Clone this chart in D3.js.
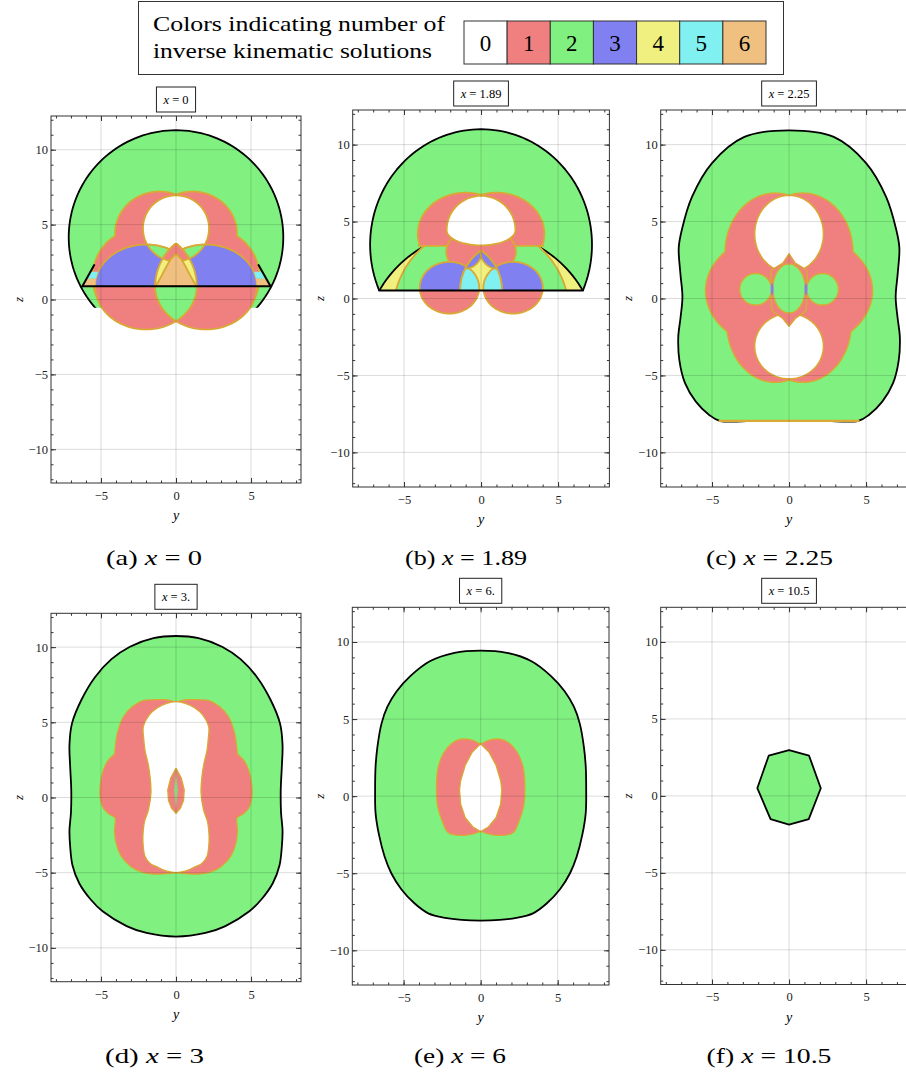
<!DOCTYPE html>
<html>
<head>
<meta charset="utf-8">
<script src="https://cdn.jsdelivr.net/npm/d3@7"></script>
<style>
  body { margin: 0; background: #fff; }
  svg { display: block; font-family: "Liberation Serif", "DejaVu Serif", serif; }
</style>
</head>
<body>
<svg id="chart" width="906" height="1074"></svg>
<script>
// colours for 0..6 solutions
const palette = ["#ffffff", "#f08080", "#80f080", "#8080f0", "#f0f080", "#80f0f0", "#f0c080"];
const legendCounts = [0, 1, 2, 3, 4, 5, 6];
const panelTitleValues = ["0", "1.89", "2.25", "3.", "6.", "10.5"];
const captionLetters = ["a", "b", "c", "d", "e", "f"];
const captionValues = ["0", "1.89", "2.25", "3", "6", "10.5"];
const yTicks = [-5, 0, 5];
const zTicks = [-10, -5, 0, 5, 10];
const yMinor = [-8, -7, -6, -5, -4, -3, -2, -1, 0, 1, 2, 3, 4, 5, 6, 7, 8];
const zMinor = [-12, -11, -10, -9, -8, -7, -6, -5, -4, -3, -2, -1, 0, 1, 2, 3, 4, 5, 6, 7, 8, 9, 10, 11, 12];
const yDomain = [-8.33, 8.33];
const zDomain = [-12.25, 12.25];

// ---- regions, in (y, z) plot units ----
// (a) x = 0
const bigA = { t: "c", c: [0, 4.15], r: 7.15, stroke: "black" };
const cutA = { t: "h", z: -0.55, above: true };
const upA = { t: "h", z: 0.89, above: true };
const downA = { t: "h", z: 0.89, above: false };
const petalLA = { t: "e", c: [-1.1, 4.4], a: 2.9, b: 2.75 };
const petalRA = { t: "e", c: [1.1, 4.4], a: 2.9, b: 2.75 };
const skirtLA = { t: "c", c: [-2.3, 1.5], r: 3.2 };
const skirtRA = { t: "c", c: [2.3, 1.5], r: 3.2 };
const holeA = { t: "c", c: [0, 4.75], r: 2.2 };
const lobeLA = { t: "egg", c: [-2.0, 0.89], a: 3.39, bt: 2.78, bb: 2.89 };
const lobeRA = { t: "egg", c: [2.0, 0.89], a: 3.39, bt: 2.78, bb: 2.89 };
const archLA = { t: "c", c: [2.275, 0.89], r: 3.655 };
const archRA = { t: "c", c: [-2.275, 0.89], r: 3.655 };
const lensA = { t: "p", mirror: true,
  pts: [[0, 3.07], [0.35, 2.7], [0.63, 2.22], [0.95, 1.6], [1.2, 1.15], [1.38, 0.89], [0, 0.89]] };
const cornerOL = { t: "p", pts: [[-6.24, 0.89], [-5.39, 0.89], [-5.33, 1.4], [-5.92, 1.4]], stroke: "none" };
const cornerOR = { t: "p", pts: [[6.3, 0.89], [5.39, 0.89], [5.33, 1.4], [5.98, 1.4]], stroke: "none" };
const cornerCL = { t: "p", pts: [[-5.92, 1.4], [-5.33, 1.4], [-5.2, 1.85], [-5.62, 1.85]], stroke: "none" };
const cornerCR = { t: "p", pts: [[5.98, 1.4], [5.33, 1.4], [5.2, 1.85], [5.66, 1.85]], stroke: "none" };

// (b) x = 1.89
const outerB = { t: "e", c: [0, 3.5], a: 7.2, b: 7.5, stroke: "black" };
const innerB = { t: "c", c: [0, -3.25], r: 7.6, stroke: "black" };
const bandB = { t: "c", c: [0, -0.95], r: 5.72 };
const upB = { t: "h", z: 0.52, above: true };
const downB = { t: "h", z: 0.52, above: false };
const petalCutB = { t: "h", z: 3.42, above: true };
const petalLB = { t: "e", c: [-1.0, 4.2], a: 3.05, b: 2.62 };
const petalRB = { t: "e", c: [1.0, 4.2], a: 3.05, b: 2.62 };
const smallLB = { t: "c", c: [-1.08, 3.05], r: 1.12 };
const smallRB = { t: "c", c: [1.08, 3.05], r: 1.12 };
const holeB = { t: "egg", c: [0, 4.45], a: 2.23, bt: 2.22, bb: 1.0 };
const lobeLB = { t: "e", c: [-2.05, 0.7], a: 1.93, b: 1.68 };
const lobeRB = { t: "e", c: [2.08, 0.7], a: 1.93, b: 1.68 };
const archLB = { t: "c", c: [1.805, 0.52], r: 3.165 };
const archRB = { t: "c", c: [-1.805, 0.52], r: 3.165 };

// (c) x = 2.25
const outerC = { t: "p", mirror: true, smooth: true, stroke: "black",
  pts: [[0, 10.93], [2.9, 10.5], [5.0, 8.8], [6.3, 6.6], [6.95, 4.5], [7.16, 3.3], [7.05, 1.6], [6.92, 0.1],
        [7.05, -1.3], [7.19, -2.5], [7.12, -4.0], [6.75, -5.5], [6.05, -6.7], [5.2, -7.55], [4.5, -7.95],
        [2.2, -7.95], [0, -7.95]] };
const petalULC = { t: "e", c: [-0.9, 3.0], a: 3.2, b: 3.8 };
const petalURC = { t: "e", c: [0.9, 3.0], a: 3.2, b: 3.8 };
const petalLLC = { t: "e", c: [-0.9, -1.6], a: 3.1, b: 3.8 };
const petalLRC = { t: "e", c: [0.9, -1.6], a: 3.1, b: 3.8 };
const waistC = { t: "e", c: [0, 0.5], a: 5.37, b: 3.9 };
const holeUC = { t: "e", c: [0, 4.2], a: 2.23, b: 2.5 };
const holeLC = { t: "e", c: [0, -3.1], a: 2.23, b: 2.12 };
const kiteC = { t: "p", mirror: true,
  pts: [[0, 2.9], [0.4, 2.3], [1.15, 1.85], [1.2, 0.6], [1.1, -0.8], [0.4, -1.3], [0, -1.8]] };
const coreC = { t: "e", c: [0, 0.65], a: 1.05, b: 1.6 };
const sideLC = { t: "c", c: [-2.17, 0.6], r: 1.03 };
const sideRC = { t: "c", c: [2.17, 0.6], r: 1.03 };
const sliverLC = { t: "e", c: [-1.1, 0.6], a: 0.09, b: 0.4, stroke: "none" };
const sliverRC = { t: "e", c: [1.1, 0.6], a: 0.09, b: 0.4, stroke: "none" };

// (d) x = 3
const outerD = { t: "p", mirror: true, smooth: true, stroke: "black",
  pts: [[0, 10.74], [1.5, 10.6], [3.07, 10.03], [4.3, 9.2], [5.4, 8.0], [6.3, 6.5], [6.93, 4.93], [7.1, 3.5],
        [7.05, 2.0], [6.98, 0.5], [7.0, -1.0], [7.1, -2.2], [7.05, -3.3], [6.9, -4.5], [6.45, -5.7],
        [5.67, -6.8], [4.89, -7.57], [3.29, -8.55], [1.96, -9.01], [0, -9.25]] };
const redD = { t: "p", mirror: true, smooth: true,
  pts: [[0, 6.37], [0.7, 6.5], [1.5, 6.5], [2.2, 6.45], [2.9, 6.05], [3.5, 5.37], [3.9, 4.3], [4.07, 3.16],
        [4.1, 2.9], [4.5, 2.5], [4.85, 1.8], [5.05, 0.8], [5.05, 0.0], [4.85, -0.7], [4.4, -1.15], [4.07, -1.35],
        [4.1, -2.2], [4.0, -3.0], [3.65, -3.9], [3.0, -4.6], [2.2, -4.98], [1.2, -5.1], [0.5, -5.05], [0, -5.0]] };
const holeD = { t: "p", mirror: true, smooth: true,
  pts: [[0, 6.37], [0.62, 6.26], [1.29, 5.93], [1.85, 5.4], [2.18, 4.71], [2.15, 3.9], [2.07, 3.16], [1.85, 2.2],
        [1.73, 1.39], [1.67, 0.29], [1.84, -0.83], [2.1, -1.6], [2.18, -2.16], [2.2, -3.0], [2.07, -3.9],
        [1.7, -4.4], [1.29, -4.6], [0.6, -4.9], [0, -5.0]] };
const lensD = { t: "p", mirror: true,
  pts: [[0, 1.94], [0.35, 1.3], [0.55, 0.5], [0.5, -0.2], [0.3, -0.7], [0, -1.05]] };
const coreD = { t: "p", mirror: true, stroke: "none", pts: [[0, 1.7], [0.11, 0.5], [0, -0.8]] };

// (e) x = 6
const outerE = { t: "p", mirror: true, smooth: true, stroke: "black",
  pts: [[0, 9.44], [1.7, 9.3], [3.3, 8.75], [4.55, 7.8], [5.45, 6.8], [6.05, 5.8], [6.43, 4.72], [6.7, 3.2],
        [6.82, 1.92], [6.85, 0.4], [6.82, -1.1], [6.6, -2.5], [6.23, -3.93], [5.8, -5.0], [5.15, -6.04],
        [4.3, -6.95], [3.4, -7.6], [2.3, -7.9], [1.23, -8.03], [0, -8.07]] };
const redE = { t: "p", mirror: true, smooth: true,
  pts: [[0, 3.4], [0.5, 3.62], [1.3, 3.69], [1.9, 3.4], [2.4, 2.8], [2.75, 1.9], [2.86, 0.9], [2.8, -0.6],
        [2.5, -1.6], [2.1, -2.37], [1.2, -2.55], [0.5, -2.45], [0, -2.3]] };
const holeE = { t: "p", mirror: true,
  pts: [[0, 3.4], [0.55, 2.85], [1.0, 2.0], [1.3, 1.0], [1.37, 0.4], [1.3, -0.5], [1.0, -1.4], [0.5, -2.0], [0, -2.3]] };

// (f) x = 10.5
const octF = { t: "p", stroke: "black",
  pts: [[0, 2.98], [1.3, 2.61], [2.06, 0.5], [1.28, -1.51], [0, -1.87], [-1.2, -1.51], [-2.06, 0.5], [-1.32, 2.61]] };

// painting order per panel: each layer = fill count + intersected parts (or a union)
const layersA = [
  { fill: 2, parts: [bigA, cutA] },
  { fill: 1, union: true, parts: [petalLA, petalRA, skirtLA, skirtRA] },
  { fill: 0, parts: [holeA] },
  { fill: 3, parts: [lobeLA, upA] }, { fill: 1, parts: [lobeLA, downA] },
  { fill: 3, parts: [lobeRA, upA] }, { fill: 1, parts: [lobeRA, downA] },
  { fill: 2, parts: [holeA, lobeLA] }, { fill: 2, parts: [holeA, lobeRA] },
  { fill: 2, parts: [lobeLA, lobeRA, downA] },
  { fill: 4, parts: [archLA, archRA, upA] },
  { fill: 1, parts: [archLA, archRA, holeA] },
  { fill: 6, parts: [lensA] },
  { fill: 6, parts: [cornerOL] }, { fill: 6, parts: [cornerOR] },
  { fill: 5, parts: [cornerCL] }, { fill: 5, parts: [cornerCR] }
];
const linesA = [
  { pts: [[-6.24, 0.89], [6.3, 0.89]], stroke: "black" },
  { pts: [[-6.24, 0.89], [-5.45, 2.3]], stroke: "black" },
  { pts: [[6.3, 0.89], [5.5, 2.3]], stroke: "black" }
];
const layersB = [
  { fill: 2, parts: [outerB, upB] },
  { fill: 4, parts: [innerB, upB] },
  { fill: 2, parts: [bandB, upB] },
  { fill: 1, union: true, parts: [petalLB, petalRB], clip: [petalCutB] },
  { fill: 1, union: true, parts: [smallLB, smallRB] },
  { fill: 0, parts: [holeB] },
  { fill: 3, parts: [lobeLB, upB] }, { fill: 1, parts: [lobeLB, downB] },
  { fill: 3, parts: [lobeRB, upB] }, { fill: 1, parts: [lobeRB, downB] },
  { fill: 4, parts: [archLB, archRB, upB] },
  { fill: 5, parts: [lobeLB, archLB, archRB, upB] },
  { fill: 5, parts: [lobeRB, archLB, archRB, upB] },
  { fill: 3, parts: [smallLB, archLB, archRB] },
  { fill: 3, parts: [smallRB, archLB, archRB] }
];
const linesB = [
  { pts: [[-6.62, 0.52], [6.62, 0.52]], stroke: "black" },
  { pts: [[-4.05, 3.42], [-2.2, 3.42]], stroke: "gold" },
  { pts: [[2.2, 3.42], [4.05, 3.42]], stroke: "gold" }
];
const layersC = [
  { fill: 2, parts: [outerC] },
  { fill: 1, union: true, parts: [petalULC, petalURC, petalLLC, petalLRC, waistC] },
  { fill: 0, parts: [holeUC] }, { fill: 0, parts: [holeLC] },
  { fill: 1, parts: [kiteC] },
  { fill: 2, parts: [coreC] }, { fill: 2, parts: [sideLC] }, { fill: 2, parts: [sideRC] },
  { fill: 3, parts: [sliverLC] }, { fill: 3, parts: [sliverRC] }
];
const linesC = [{ pts: [[-4.5, -7.95], [4.5, -7.95]], stroke: "gold", wide: true }];
const layersD = [
  { fill: 2, parts: [outerD] },
  { fill: 1, parts: [redD] },
  { fill: 0, parts: [holeD] },
  { fill: 1, parts: [lensD] },
  { fill: 2, parts: [coreD] }
];
const layersE = [
  { fill: 2, parts: [outerE] },
  { fill: 1, parts: [redE] },
  { fill: 0, parts: [holeE] }
];
const layersF = [{ fill: 2, parts: [octF] }];

const panelLayers = [layersA, layersB, layersC, layersD, layersE, layersF];
const panelLines = [linesA, linesB, linesC, [], [], []];

// ---- layout ----
const frames = [
  [51, 116, 250, 367], [352.7, 110, 256.7, 377], [660.7, 110, 256.7, 377],
  [51, 613.3, 250, 368.4], [352.3, 607.3, 256.7, 377.7], [660.7, 607.3, 256.7, 377.2]
];
const goldWidths = [1.8, 1.8, 1.5, 1.3, 1.3, 1.3];
const captionX = [154, 466, 769.5, 154.5, 460, 769];
const captionW = [96, 122, 127, 99, 92, 125];
const captionY = [565, 565, 565, 1063, 1063, 1063];
const GOLD = "#d9a934";

const svg = d3.select("#chart");
const defs = svg.append("defs");
let clipCount = 0;

function outline(s) {
  if (s.t === "c" || s.t === "e" || s.t === "egg") {
    const a = s.t === "c" ? s.r : s.a;
    const bt = s.t === "c" ? s.r : (s.t === "e" ? s.b : s.bt);
    const bb = s.t === "c" ? s.r : (s.t === "e" ? s.b : s.bb);
    return d3.range(160).map(i => {
      const th = (i / 160) * 2 * Math.PI, sn = Math.sin(th);
      return [s.c[0] + a * Math.cos(th), s.c[1] + (sn >= 0 ? bt : bb) * sn];
    });
  }
  if (s.t === "h") {
    const far = 60;
    return s.above ? [[-far, s.z], [far, s.z], [far, far], [-far, far]]
                   : [[-far, s.z], [far, s.z], [far, -far], [-far, -far]];
  }
  let pts = s.pts;
  if (s.mirror) pts = pts.concat(pts.slice(1, -1).reverse().map(([y, z]) => [-y, z]));
  return pts;
}

function pathFor(s, sx, sz) {
  const line = d3.line().x(d => sx(d[0])).y(d => sz(d[1]))
    .curve(s.t === "p" && s.smooth ? d3.curveCatmullRomClosed : d3.curveLinearClosed);
  return line(outline(s));
}

function clipped(parent, shapes, sx, sz) {
  let host = parent;
  shapes.forEach(s => {
    const id = "cp" + (clipCount++);
    defs.append("clipPath").attr("id", id).append("path").attr("d", pathFor(s, sx, sz));
    host = host.append("g").attr("clip-path", `url(#${id})`);
  });
  return host;
}

function strokeOf(p) { return p.stroke === "black" ? "#000" : GOLD; }

function drawLayer(g, L, sx, sz, gw) {
  const col = palette[L.fill];
  if (L.union) {
    const host = clipped(g, L.clip || [], sx, sz);
    L.parts.forEach(p => host.append("path").attr("d", pathFor(p, sx, sz))
      .attr("fill", "none").attr("stroke", strokeOf(p)).attr("stroke-width", 2 * gw));
    L.parts.forEach(p => host.append("path").attr("d", pathFor(p, sx, sz)).attr("fill", col));
    return;
  }
  clipped(g, L.parts.slice(1), sx, sz).append("path")
    .attr("d", pathFor(L.parts[0], sx, sz)).attr("fill", col);
  L.parts.forEach((p, i) => {
    if (p.t === "h" || p.stroke === "none") return;
    clipped(g, L.parts.filter((_, j) => j !== i), sx, sz).append("path")
      .attr("d", pathFor(p, sx, sz))
      .attr("fill", "none")
      .attr("stroke", strokeOf(p))
      .attr("stroke-width", p.stroke === "black" ? 1.8 : gw)
      .attr("stroke-linejoin", "round");
  });
}

function styleAxis(g) {
  g.select(".domain").remove();
  g.attr("font-family", "Liberation Serif").attr("font-size", 12.5);
  g.selectAll("line").attr("stroke", "#333");
  g.selectAll("text").attr("fill", "#222");
}

frames.forEach(([fx, fy, fw, fh], k) => {
  const sx = d3.scaleLinear().domain(yDomain).range([fx, fx + fw]);
  const sz = d3.scaleLinear().domain(zDomain).range([fy + fh, fy]);
  const panel = svg.append("g");

  const fid = "frame" + k;
  defs.append("clipPath").attr("id", fid).append("rect")
    .attr("x", fx).attr("y", fy).attr("width", fw).attr("height", fh);
  const plot = panel.append("g").attr("clip-path", `url(#${fid})`);

  panelLayers[k].forEach(L => drawLayer(plot, L, sx, sz, goldWidths[k]));
  panelLines[k].forEach(l => {
    plot.append("line")
      .attr("x1", sx(l.pts[0][0])).attr("y1", sz(l.pts[0][1]))
      .attr("x2", sx(l.pts[1][0])).attr("y2", sz(l.pts[1][1]))
      .attr("stroke", l.stroke === "black" ? "#000" : GOLD)
      .attr("stroke-width", l.stroke === "black" ? 2 : (l.wide ? 2.4 : goldWidths[k]))
      .attr("stroke-linecap", "round");
  });

  // grid over the regions
  plot.append("g").selectAll("line").data(yTicks).join("line")
    .attr("x1", d => sx(d)).attr("x2", d => sx(d)).attr("y1", fy).attr("y2", fy + fh)
    .attr("stroke", "#000").attr("stroke-opacity", 0.14);
  plot.append("g").selectAll("line").data(zTicks).join("line")
    .attr("y1", d => sz(d)).attr("y2", d => sz(d)).attr("x1", fx).attr("x2", fx + fw)
    .attr("stroke", "#000").attr("stroke-opacity", 0.14);

  // frame ticks, pointing inward
  panel.append("g").attr("transform", `translate(0,${fy + fh})`)
    .call(d3.axisBottom(sx).tickValues(yTicks).tickSize(-5).tickPadding(8)).call(styleAxis);
  panel.append("g").attr("transform", `translate(0,${fy + fh})`)
    .call(d3.axisBottom(sx).tickValues(yMinor).tickSize(-2.5).tickFormat("")).call(styleAxis);
  panel.append("g").attr("transform", `translate(0,${fy})`)
    .call(d3.axisTop(sx).tickValues(yTicks).tickSize(-5).tickFormat("")).call(styleAxis);
  panel.append("g").attr("transform", `translate(0,${fy})`)
    .call(d3.axisTop(sx).tickValues(yMinor).tickSize(-2.5).tickFormat("")).call(styleAxis);
  panel.append("g").attr("transform", `translate(${fx},0)`)
    .call(d3.axisLeft(sz).tickValues(zTicks).tickSize(-5).tickPadding(3)).call(styleAxis);
  panel.append("g").attr("transform", `translate(${fx},0)`)
    .call(d3.axisLeft(sz).tickValues(zMinor).tickSize(-2.5).tickFormat("")).call(styleAxis);
  panel.append("g").attr("transform", `translate(${fx + fw},0)`)
    .call(d3.axisRight(sz).tickValues(zTicks).tickSize(-5).tickFormat("")).call(styleAxis);
  panel.append("g").attr("transform", `translate(${fx + fw},0)`)
    .call(d3.axisRight(sz).tickValues(zMinor).tickSize(-2.5).tickFormat("")).call(styleAxis);

  panel.append("rect").attr("x", fx).attr("y", fy).attr("width", fw).attr("height", fh)
    .attr("fill", "none").attr("stroke", "#333").attr("stroke-width", 1);

  // axis names
  panel.append("text").attr("x", sx(0)).attr("y", fy + fh + 37)
    .attr("text-anchor", "middle").attr("font-style", "italic").attr("font-size", 14).text("y");
  panel.append("text")
    .attr("transform", `translate(${fx - 33},${sz(0)}) rotate(-90)`)
    .attr("text-anchor", "middle").attr("dy", "0.35em")
    .attr("font-style", "italic").attr("font-size", 13).text("z");

  // boxed plot title
  const box = panel.append("rect").attr("y", fy - 29).attr("height", 25)
    .attr("fill", "#fff").attr("stroke", "#222").attr("stroke-width", 1);
  const title = panel.append("text").attr("x", sx(0)).attr("y", fy - 12)
    .attr("text-anchor", "middle").attr("font-size", 12.5);
  title.append("tspan").attr("font-style", "italic").text("x");
  title.append("tspan").text(" = " + panelTitleValues[k]);
  const tw = title.node().getComputedTextLength() + 14;
  box.attr("x", sx(0) - tw / 2).attr("width", tw);

  // sub-figure caption
  const cap = svg.append("text").attr("x", captionX[k] - captionW[k] / 2).attr("y", captionY[k])
    .attr("font-size", 21).attr("textLength", captionW[k]).attr("lengthAdjust", "spacingAndGlyphs");
  cap.append("tspan").text(`(${captionLetters[k]}) `);
  cap.append("tspan").attr("font-style", "italic").text("x");
  cap.append("tspan").text(" = " + captionValues[k]);
});

// ---- legend ----
const legend = svg.append("g");
legend.append("rect").attr("x", 138.5).attr("y", 1.5).attr("width", 645).attr("height", 73)
  .attr("fill", "#fff").attr("stroke", "#333").attr("stroke-width", 1);
legend.append("text").attr("x", 153).attr("y", 31).attr("font-size", 21)
  .attr("textLength", 292).attr("lengthAdjust", "spacingAndGlyphs").text("Colors indicating number of");
legend.append("text").attr("x", 153).attr("y", 58).attr("font-size", 21)
  .attr("textLength", 279).attr("lengthAdjust", "spacingAndGlyphs").text("inverse kinematic solutions");
const cellX = d3.scaleBand().domain(legendCounts).range([464, 766]);
legend.selectAll("rect.cell").data(legendCounts).join("rect").attr("class", "cell")
  .attr("x", d => cellX(d)).attr("y", 21).attr("width", cellX.bandwidth()).attr("height", 43)
  .attr("fill", d => palette[d]).attr("stroke", "#333").attr("stroke-width", 1);
legend.selectAll("text.num").data(legendCounts).join("text").attr("class", "num")
  .attr("x", d => cellX(d) + cellX.bandwidth() / 2).attr("y", 51)
  .attr("text-anchor", "middle").attr("font-size", 23).text(d => d);
</script>
</body>
</html>
